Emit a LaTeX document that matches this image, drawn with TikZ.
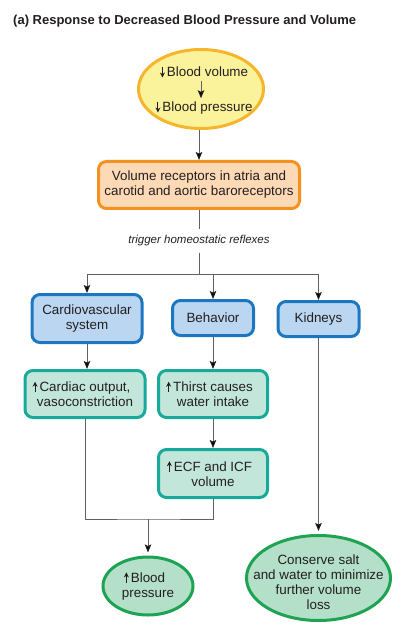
\documentclass[tikz,border=0pt]{standalone}
\usepackage{fontspec}
\setmainfont{Liberation Sans}
\usepackage{tikz}
\usetikzlibrary{shapes.geometric, arrows.meta}

\definecolor{ink}{HTML}{231F20}
\definecolor{wiregray}{HTML}{5F6063}
\definecolor{yelfill}{HTML}{FBF29C}
\definecolor{yelline}{HTML}{F7B52C}
\definecolor{recfill}{HTML}{FDD9B5}
\definecolor{recline}{HTML}{F39221}
\definecolor{bluefill}{HTML}{BAD6F0}
\definecolor{blueline}{HTML}{1D77C0}
\definecolor{tealfill}{HTML}{C3E6DB}
\definecolor{tealline}{HTML}{17A99A}
\definecolor{greenfill}{HTML}{B4E0C9}
\definecolor{greenline}{HTML}{1DA352}

\newcommand{\decr}{\tikz[baseline=0pt]\draw[draw=ink, line width=1.1pt, -{Stealth[length=5pt, width=5pt]}] (0pt,10pt) -- (0pt,-0.5pt);\hspace{2pt}}
\newcommand{\incr}{\tikz[baseline=0pt]\draw[draw=ink, line width=1.1pt, -{Stealth[length=5pt, width=5pt]}] (0pt,-0.5pt) -- (0pt,10pt);\hspace{2pt}}

\tikzset{
    bodytext/.style={font=\fontsize{13.4}{15}\selectfont, text=ink, align=center},
    roundbox/.style={bodytext, rectangle, rounded corners=8pt, line width=3pt, inner sep=2pt},
    bluebox/.style={roundbox, draw=blueline, fill=bluefill},
    tealbox/.style={roundbox, draw=tealline, fill=tealfill},
    ovalnode/.style={bodytext, ellipse, line width=3pt, inner sep=0pt},
    greenoval/.style={ovalnode, draw=greenline, fill=greenfill},
    wire/.style={draw=wiregray, line width=1pt},
    link/.style={wire, -{Stealth[length=8pt, width=6.5pt, inset=1.5pt, color=ink]}},
}

\begin{document}
\begin{tikzpicture}[x=1pt, y=-1pt]
    \useasboundingbox (0,0) rectangle (404,628);

    \node[anchor=base west, inner sep=0pt, text=ink, font=\bfseries\fontsize{13}{15}\selectfont] (title) at (13,25) {(a) Response to Decreased Blood Pressure and Volume};

    \node[ovalnode, draw=yelline, fill=yelfill, minimum width=125pt, minimum height=79pt] (volume) at (201,89) {};
    \node[bodytext, inner sep=0pt, anchor=base] (bv) at (204,77) {\decr Blood volume};
    \node[bodytext, inner sep=0pt, anchor=base] (bp) at (204,112) {\decr Blood pressure};
    \draw[link, shorten <=3pt, shorten >=3pt] (bv.south -| volume.center) -- (bp.north -| volume.center);

    \node[roundbox, draw=recline, fill=recfill, minimum width=201pt, minimum height=47pt] (receptors) at (199,185) {Volume receptors in atria and\\carotid and aortic baroreceptors};
    \draw[link] (receptors.north |- volume.south) -- (receptors.north);

    \node[bodytext, font=\itshape\fontsize{11.5}{13}\selectfont, inner sep=0pt, minimum height=23pt] (trigger) at (199,241) {trigger homeostatic reflexes};
    \coordinate (split) at (199,274);
    \draw[wire] (receptors) -- (trigger);
    \draw[wire] (trigger) -- (split);

    \node[bluebox, minimum width=110pt, minimum height=48pt] (cardio) at (87,318.5) {Cardiovascular\\system};
    \node[bluebox, minimum width=81pt, minimum height=35pt] (behavior) at (213,318) {Behavior};
    \node[bluebox, minimum width=81pt, minimum height=35pt] (kidneys) at (318.5,319) {Kidneys};

    \draw[wire] (cardio.north |- split) -- (kidneys.north |- split);
    \draw[link] (cardio.north |- split) -- (cardio.north);
    \draw[link] (behavior.north |- split) -- (behavior.north);
    \draw[link] (kidneys.north |- split) -- (kidneys.north);

    \node[tealbox, minimum width=120pt, minimum height=47pt] (cardiac) at (85,394) {\llap{\incr}Cardiac output,\\vasoconstriction};
    \node[tealbox, minimum width=109pt, minimum height=47pt] (thirst) at (213,394) {\llap{\incr}Thirst causes\\water intake};
    \node[tealbox, minimum width=109pt, minimum height=48pt] (ecf) at (213,473.5) {\llap{\incr}ECF and ICF\\volume};

    \draw[link] (cardio) -- (cardio |- cardiac.north);
    \draw[link] (behavior) -- (thirst);
    \draw[link] (thirst) -- (ecf);

    \node[greenoval, minimum width=90pt, minimum height=58pt] (pressure) at (148,586) {\llap{\incr}Blood\\pressure};
    \coordinate (join) at (148,519);
    \draw[wire] (cardiac.south) |- (join) -| (ecf.south);
    \draw[link, shorten >=3pt] (join) -- (pressure);

    \node[greenoval, minimum width=144pt, minimum height=85pt] (conserve) at (318.5,578) {};
    \node[bodytext, inner sep=0pt] (conservetext) at (318.5,582) {Conserve salt\\and water to minimize\\further volume\\loss};
    \draw[link, shorten >=3pt] (kidneys) -- (conserve);
\end{tikzpicture}
\end{document}
